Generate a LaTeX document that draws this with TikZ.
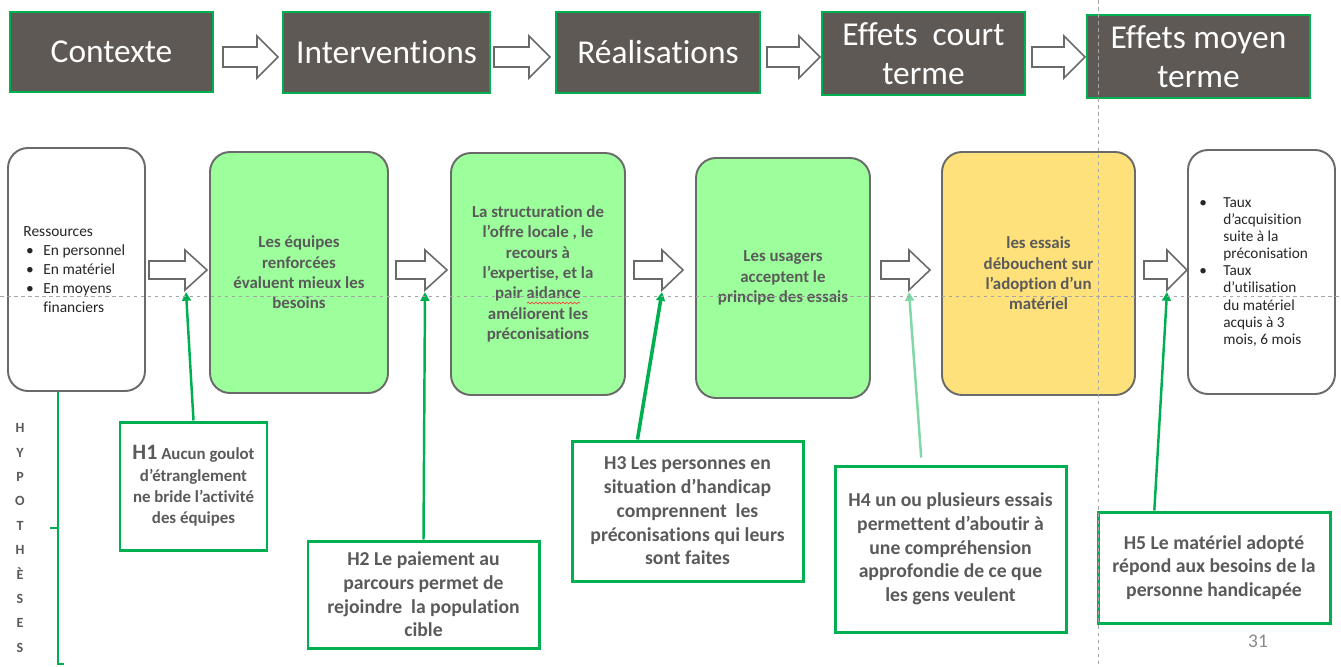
\documentclass[tikz,border=0pt]{standalone}
\usepackage{fontspec}
\setmainfont{Carlito}[Ligatures=NoCommon]
\usetikzlibrary{arrows.meta,calc,decorations.pathmorphing}

\definecolor{topfill}{HTML}{5E5954}
\definecolor{hgreen}{HTML}{00B050}
\definecolor{lgreen}{HTML}{7FD8A6}
\definecolor{boxgreen}{HTML}{9CFF9C}
\definecolor{boxyellow}{HTML}{FFE17B}
\definecolor{txt}{HTML}{5A5A5A}
\definecolor{edge}{HTML}{6A6A6A}
\definecolor{guidegray}{HTML}{A6A6A6}
\definecolor{pagegray}{HTML}{898989}

% hollow block arrow: left x, head start x, tip x, centre y, shaft half height, head half height
\newcommand\hollowarrow[6]{%
  \draw[blockarrow] (#1,{#4-#5}) -- (#2,{#4-#5}) -- (#2,{#4-#6}) -- (#3,#4)
    -- (#2,{#4+#6}) -- (#2,{#4+#5}) -- (#1,{#4+#5}) -- cycle;}

\tikzset{
  % a box given by its left, top, right and bottom edges (1 unit = 0.02cm)
  span/.style args={#1/#2/#3/#4}{at={({(#1+#3)/2},{(#2+#4)/2})}, anchor=center,
    minimum width={(#3-#1)*0.02cm}, minimum height={(#4-#2)*0.02cm}},
  stage/.style={draw=hgreen, line width=0.9pt, fill=topfill, text=white,
    inner sep=0pt, align=center, font=\fontsize{19}{22.5}\selectfont},
  outcome/.style={draw=edge, line width=1.1pt, rounded corners=0.4cm,
    inner sep=0pt, align=center, text=txt,
    font=\bfseries\fontsize{9.6}{11.6}\selectfont},
  plainlist/.style={font=\fontsize{8.8}{10.8}\selectfont, text=black!85, align=left},
  hyp/.style={draw=hgreen, line width=1.7pt, fill=white, inner sep=0pt,
    align=center, text=txt, font=\bfseries\fontsize{11.2}{13.5}\selectfont},
  blockarrow/.style={draw=edge, line width=0.9pt, fill=white, line join=miter},
  link/.style={draw=hgreen, line width=1.4pt, -{Triangle[length=5pt,width=5pt]}},
  guide/.style={draw=guidegray, line width=0.5pt, dash pattern=on 2pt off 2pt},
  bracket/.style={draw=hgreen, line width=1pt},
}

\begin{document}
\begin{tikzpicture}[x=0.02cm,y=-0.02cm]
\useasboundingbox (0,0) rectangle (1341,666);
\fill[white] (0,0) rectangle (1341,666);

% stages of the logic model
\node[stage, span=10/12/213/92] (ctx) {Contexte};
\node[stage, span=283/12/490/93] (int) {Interventions};
\node[stage, span=556/12/760/93] (rea) {Réalisations};
\node[stage, span=822/12/1025/95] (ect) {Effets\ \ court\\terme};
\node[stage, span=1087/15/1310/98] (emt) {Effets moyen\\terme};

\hollowarrow{223}{257}{278}{57}{10}{21}
\hollowarrow{494}{529}{550}{57}{10}{21}
\hollowarrow{767}{799}{820}{57}{10}{21}
\hollowarrow{1032}{1064}{1085}{57}{10}{21}

% chain of outcomes
\node[outcome, fill=white, span=8/148/145/391, plainlist] (res) {Ressources\\
\hspace*{1.5pt}\makebox[9.9pt][l]{\textbullet}En personnel\kern2.5pt\\
\hspace*{1.5pt}\makebox[9.9pt][l]{\textbullet}En matériel\\
\hspace*{1.5pt}\makebox[9.9pt][l]{\textbullet}En moyens\\
\hspace*{11.4pt}financiers};
\node[outcome, fill=boxgreen, span=210/152/388/393] (g1)
  {Les équipes\\renforcées\\évaluent mieux les\\besoins};
\node[outcome, fill=boxgreen, span=451/153/625/395] (g2)
  {La structuration de\\l’offre locale , le\\recours à\\l’expertise, et la\\pair aidance\\améliorent les\\préconisations};
\node[outcome, fill=boxgreen, span=696/158/870/398] (g3)
  {Les usagers\\acceptent le\\principe des essais};
\node[outcome, fill=boxyellow, span=942/152/1135/395] (g4)
  {les essais\\débouchent sur\\l’adoption d’un\\matériel};
\node[outcome, fill=white, span=1188/150/1335/394, plainlist,
  font=\fontsize{8.7}{9.7}\selectfont] (ind) {%
\makebox[13.7pt][l]{\textbullet}Taux\\
\hspace*{13.7pt}d’acquisition\\
\hspace*{13.7pt}suite à la\\
\hspace*{13.7pt}préconisation\kern9pt\\
\makebox[13.7pt][l]{\textbullet}Taux\\
\hspace*{13.7pt}d’utilisation\\
\hspace*{13.7pt}du matériel\\
\hspace*{13.7pt}acquis à 3\\
\hspace*{13.7pt}mois, 6 mois};

\hollowarrow{149}{185}{207}{270}{9}{20}
\hollowarrow{396}{425}{447}{270}{9}{20}
\hollowarrow{634}{662}{683}{270}{9}{20}
\hollowarrow{881}{909}{930}{270}{9}{20}
\hollowarrow{1144}{1167}{1187}{270}{9}{20}

% lower corners of the arrow heads, where the hypotheses point
\coordinate (b1) at (186,292);
\coordinate (b2) at (425,292);
\coordinate (b3) at (662,292);
\coordinate (b4) at (909,292);
\coordinate (b5) at (1167,292);

% spell-check mark under "aidance"
\draw[red!80, line width=0.35pt, decorate,
  decoration={snake, amplitude=0.5pt, segment length=2.2pt}] (527,303) -- (580,303);

% hypotheses
\node[hyp, span=120/422/267/550, font=\bfseries\fontsize{9.6}{12.2}\selectfont] (h1)
  {{\fontsize{12.5}{12.2}\selectfont H1} Aucun goulot\\d’étranglement\\ne bride l’activité\\des équipes};
\node[hyp, span=308/541/539/648] (h2)
  {H2 Le paiement au\\parcours permet de\\rejoindre\ \ la population\\cible};
\node[hyp, span=572/441/803/581] (h3)
  {H3 Les personnes en\\situation d’handicap\\comprennent\ \ les\\préconisations qui leurs\\sont faites};
\node[hyp, span=835/466/1066/632] (h4)
  {H4 un ou plusieurs essais\\permettent d’aboutir à\\une compréhension\\approfondie de ce que\\les gens veulent};
\node[hyp, span=1098/512/1330/623] (h5)
  {H5 Le matériel adopté\\répond aux besoins de la\\personne handicapée};

\draw[link] (h1.north) -- (b1);
\draw[link] (h2.north) -- (b2);
\draw[link, line width=2pt] ($(h3.north west)!0.286!(h3.north east)$) -- (b3);
\draw[link, draw=lgreen, color=lgreen, shorten <=4pt] ($(h4.north west)!0.377!(h4.north east)$) -- (b4);
\draw[link] ($(h5.north west)!0.246!(h5.north east)$) -- (b5);

% bracket and vertical label
\coordinate (bt) at ($(res.south west)!0.365!(res.south east)$);
\draw[bracket] (bt) -- ++(0,272) -- ++(6,0);
\draw[bracket] (bt) ++(0,136) -- ++(-8,0);
\node[font=\bfseries\fontsize{8}{13.9}\selectfont, text=txt, align=center, inner sep=0pt]
  (hyplabel) at (20,538) {H\\Y\\P\\O\\T\\H\\È\\S\\E\\S};

% slide number
\node[text=pagegray, font=\fontsize{11}{13}\selectfont, inner sep=0pt] (pg) at (1258,641) {31};

% layout guides
\draw[guide] (0,296) -- (1341,296);
\draw[guide] (1098,0) -- (1098,666);
\end{tikzpicture}
\end{document}
